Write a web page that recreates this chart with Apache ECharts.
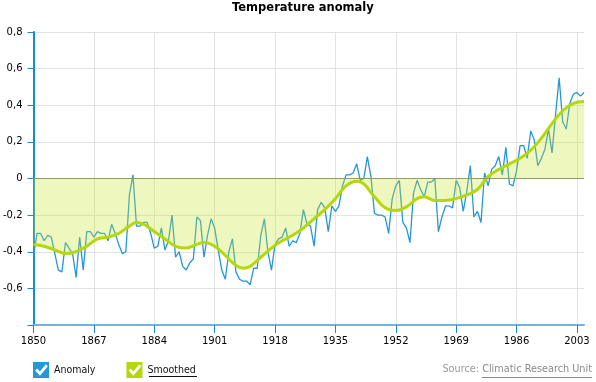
<!DOCTYPE html>
<html>
<head>
<meta charset="utf-8">
<script src="https://cdn.jsdelivr.net/npm/echarts@6/dist/echarts.min.js"></script>
<style>
html,body{margin:0;padding:0;background:#fff;}
#chart{width:596px;height:382px;}
</style>
</head>
<body>
<div id="chart"></div>
<script>
// Years 1850..2005
var firstYear = 1850;
var lastYear = 2005;
var years = [];
for (var y = firstYear; y <= lastYear; y++) years.push(String(y));

// Annual anomaly (°C), 1850..2005
var anomaly = [
  -0.42, -0.30, -0.30, -0.34, -0.31, -0.32, -0.41, -0.50, -0.51, -0.35, // 1850-1859
  -0.38, -0.41, -0.54, -0.32, -0.50, -0.29, -0.29, -0.32, -0.29, -0.30, // 1860-1869
  -0.30, -0.34, -0.25, -0.30, -0.36, -0.41, -0.40, -0.09, 0.02, -0.26,  // 1870-1879
  -0.26, -0.24, -0.24, -0.30, -0.38, -0.37, -0.27, -0.39, -0.34, -0.20, // 1880-1889
  -0.43, -0.40, -0.48, -0.50, -0.46, -0.44, -0.21, -0.23, -0.43, -0.31, // 1890-1899
  -0.22, -0.27, -0.39, -0.50, -0.55, -0.40, -0.33, -0.51, -0.55, -0.56, // 1900-1909
  -0.56, -0.58, -0.49, -0.49, -0.31, -0.22, -0.40, -0.50, -0.36, -0.33, // 1910-1919
  -0.32, -0.27, -0.37, -0.34, -0.35, -0.30, -0.17, -0.25, -0.26, -0.37, // 1920-1929
  -0.17, -0.13, -0.16, -0.29, -0.15, -0.18, -0.15, -0.04, 0.02, 0.02,   // 1930-1939
  0.03, 0.08, -0.01, 0.00, 0.12, 0.01, -0.19, -0.20, -0.20, -0.21,      // 1940-1949
  -0.30, -0.11, -0.04, -0.01, -0.24, -0.27, -0.35, -0.08, -0.01, -0.06, // 1950-1959
  -0.10, -0.02, -0.02, 0.00, -0.29, -0.21, -0.15, -0.15, -0.16, -0.01,  // 1960-1969
  -0.05, -0.18, -0.07, 0.07, -0.21, -0.18, -0.24, 0.03, -0.04, 0.05,    // 1970-1979
  0.07, 0.12, 0.02, 0.17, -0.03, -0.04, 0.04, 0.18, 0.18, 0.11,         // 1980-1989
  0.26, 0.21, 0.07, 0.11, 0.16, 0.27, 0.14, 0.35, 0.55, 0.31,           // 1990-1999
  0.27, 0.41, 0.46, 0.47, 0.45, 0.47                                     // 2000-2005
];

// Smoothed curve, read at sample years
var smoothYears = [1850, 1853, 1856, 1859, 1862, 1865, 1868, 1871, 1874, 1877, 1879, 1881, 1884, 1887, 1890, 1893, 1896, 1898, 1901, 1904, 1907, 1909, 1911, 1914, 1917, 1920, 1923, 1926, 1929, 1932, 1935, 1938, 1941, 1943, 1946, 1949, 1952, 1955, 1958, 1960, 1963, 1966, 1969, 1972, 1975, 1978, 1981, 1984, 1987, 1990, 1993, 1996, 1999, 2002, 2005];
var smoothValues = [-0.36, -0.37, -0.39, -0.41, -0.40, -0.37, -0.33, -0.32, -0.30, -0.26, -0.24, -0.25, -0.29, -0.33, -0.37, -0.38, -0.36, -0.35, -0.37, -0.42, -0.475, -0.49, -0.48, -0.43, -0.38, -0.34, -0.31, -0.27, -0.22, -0.17, -0.11, -0.04, -0.015, -0.03, -0.10, -0.16, -0.175, -0.155, -0.11, -0.10, -0.12, -0.12, -0.11, -0.09, -0.06, 0.01, 0.05, 0.08, 0.11, 0.155, 0.22, 0.30, 0.37, 0.41, 0.42];

// Axis ticks
var yMin = -0.8, yMax = 0.8, yStep = 0.2;
var xLabelEvery = 17;

var smoothData = smoothYears.map(function (yr, i) {
  return [years.indexOf(String(yr)), smoothValues[i]];
});

var chart = echarts.init(document.getElementById('chart'), null, {renderer: 'canvas'});
var FONT = 'DejaVu Sans';
var COND = 'DejaVu Sans Condensed';
var checkIcon = 'path://M0,0L15,0L15,15L0,15ZM6.5,13L14,4L12,2L6.5,9L4,6L2,8Z';

chart.setOption({
  animation: false,
  backgroundColor: '#ffffff',
  title: {
    text: 'Temperature anomaly',
    left: 232,
    top: 2,
    padding: 0,
    textStyle: {fontFamily: FONT, fontSize: 11.5, fontWeight: 'bold', color: '#000'}
  },
  grid: {left: 33, right: 12, top: 32, bottom: 57, containLabel: false},
  legend: {
    left: 33,
    top: 362,
    padding: 0,
    itemWidth: 16,
    itemHeight: 16,
    itemGap: 31,
    icon: checkIcon,
    itemStyle: {borderWidth: 0},
    textStyle: {fontFamily: COND, fontSize: 10.5, color: '#111'},
    data: ['Anomaly', 'Smoothed']
  },
  xAxis: {
    type: 'category',
    data: years,
    boundaryGap: false,
    axisLine: {onZero: false, lineStyle: {color: '#6cb6e4', width: 2}},
    axisTick: {interval: xLabelEvery - 1, length: 8, lineStyle: {color: '#1a88d0', width: 1}},
    axisLabel: {interval: xLabelEvery - 1, margin: 11, fontFamily: FONT, fontSize: 10, color: '#000'},
    splitLine: {show: true, interval: xLabelEvery - 1, lineStyle: {color: '#e3e3e3', width: 1}}
  },
  yAxis: {
    type: 'value',
    min: yMin,
    max: yMax,
    interval: yStep,
    axisLine: {show: true, lineStyle: {color: '#1a8ad4', width: 2}},
    axisTick: {show: true, length: 6, lineStyle: {color: '#1a8ad4', width: 1}},
    axisLabel: {
      margin: 11,
      fontFamily: FONT, fontSize: 10, color: '#000',
      formatter: function (v) {
        if (Math.abs(v) < 1e-9) return '0';
        if (v <= yMin + 1e-9) return '';
        return v.toFixed(1).replace('.', ',');
      }
    },
    splitLine: {show: true, lineStyle: {color: '#e3e3e3', width: 1}}
  },
  series: [
    {
      name: 'Anomaly',
      type: 'line',
      data: anomaly,
      showSymbol: false,
      symbol: 'none',
      color: '#2596d8',
      lineStyle: {color: '#2596d8', width: 1.3},
      z: 2
    },
    {
      name: 'Smoothed',
      type: 'line',
      data: smoothData,
      smooth: 0.4,
      showSymbol: false,
      symbol: 'none',
      color: '#b4d80c',
      lineStyle: {color: '#b4d80c', width: 3},
      areaStyle: {color: 'rgba(200,228,40,0.44)', origin: 0},
      markLine: {
        silent: true,
        symbol: 'none',
        label: {show: false},
        lineStyle: {color: '#8f9b62', type: 'solid', width: 1},
        data: [{yAxis: 0}]
      },
      z: 3
    }
  ],
  graphic: [
    {
      type: 'text',
      right: 4,
      top: 364,
      style: {
        text: '{a|Source: }{b|Climatic Research Unit}',
        rich: {
          a: {fontFamily: COND, fontSize: 10.8, fill: '#9a9a9a'},
          b: {fontFamily: COND, fontSize: 10.8, fill: '#8a8a8a'}
        }
      }
    },
    {
      type: 'line',
      shape: {x1: 482, y1: 377.5, x2: 592, y2: 377.5},
      style: {stroke: '#8a8a8a', lineWidth: 1}
    },
    {
      type: 'line',
      shape: {x1: 149, y1: 376.5, x2: 197, y2: 376.5},
      style: {stroke: '#111', lineWidth: 1}
    }
  ]
});
</script>
</body>
</html>
